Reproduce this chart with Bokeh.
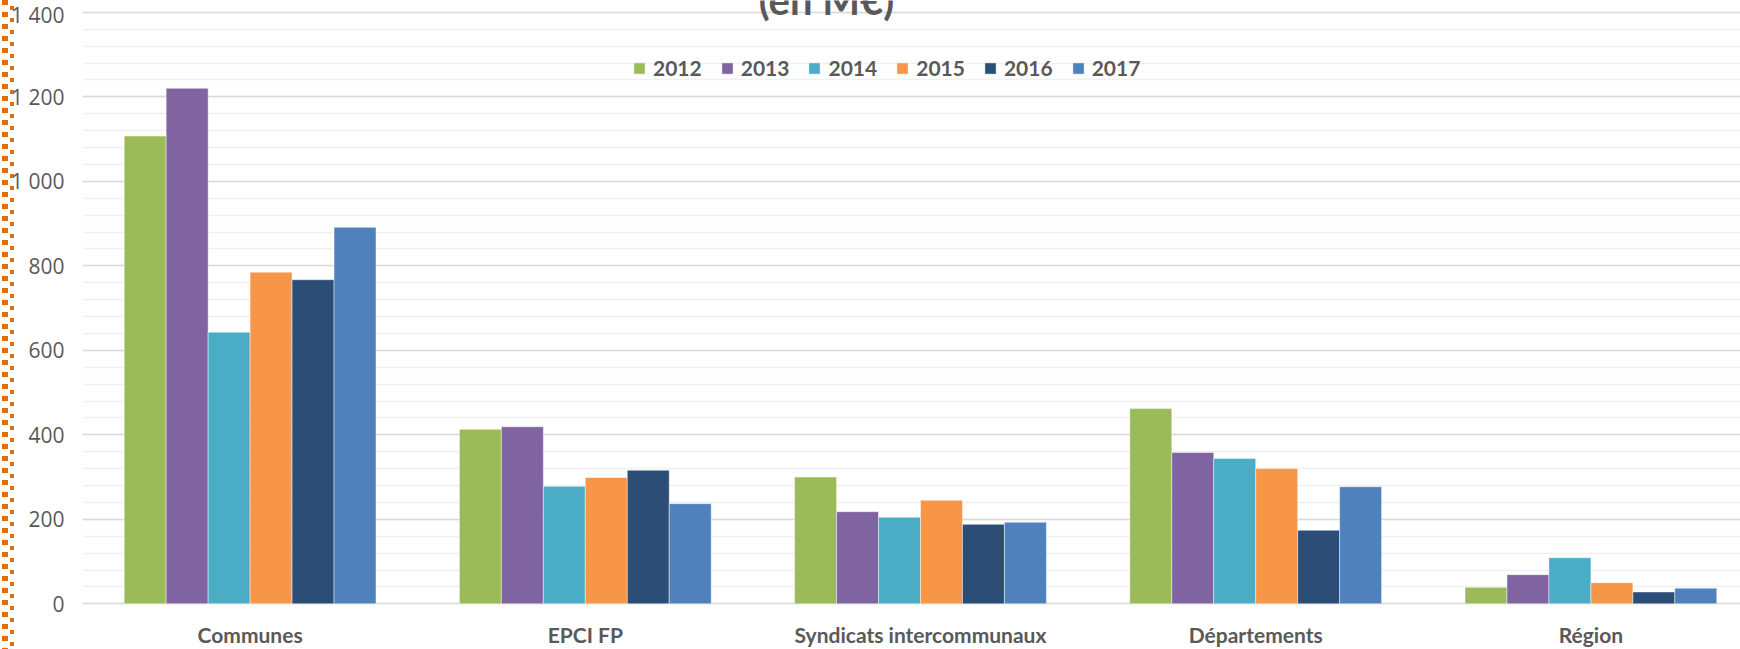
from bokeh.plotting import figure
from bokeh.models import (Range1d, FixedTicker, Legend, LegendItem, LabelSet,
                          ColumnDataSource)
from bokeh.core.properties import value
from bokeh.transform import dodge
from bokeh.embed import file_html
from bokeh.resources import INLINE

# ---- data ----
categories = ["Communes", "EPCI FP", "Syndicats intercommunaux", "Départements", "Région"]
years = ["2012", "2013", "2014", "2015", "2016", "2017"]
v2012 = [1107, 413, 300, 462, 39]
v2013 = [1220, 419, 218, 358, 69]
v2014 = [643, 278, 205, 344, 109]
v2015 = [785, 299, 245, 320, 50]
v2016 = [767, 316, 188, 174, 28]
v2017 = [891, 237, 193, 277, 37]
y_ticks = [0, 200, 400, 600, 800, 1000, 1200, 1400]
y_tick_labels = ["0", "200", "400", "600", "800", "1 000", "1 200", "1 400"]
title_text = "(en M€)"

colors = ["#9BBB59", "#8064A2", "#4BACC6", "#F79646", "#2C4D75", "#4F81BD"]
series = [v2012, v2013, v2014, v2015, v2016, v2017]

# ---- layout constants (pixels) ----
W, H = 1740, 649
LEFT = 82
Y_TOP_PX = 11.8      # position of the 1400 line from the top
Y_ZERO_PX = 603.3    # position of the 0 line from the top
cat_px = 335.2
frame_w = W - LEFT
ppu = (Y_ZERO_PX - Y_TOP_PX) / 1400.0
bar_w = 0.1252

FONT = "Lato"
GREY = "#595959"

data = {"x": [i + 0.5 for i in range(len(categories))], "cat": categories}
for y, s in zip(years, series):
    data[y] = s
src = ColumnDataSource(data)

p = figure(width=W, height=H, output_backend="svg", toolbar_location=None, title=None,
           x_axis_location=None,
           x_range=Range1d(0, frame_w / cat_px),
           y_range=Range1d(-(H - Y_ZERO_PX) / ppu, 1400 + Y_TOP_PX / ppu),
           min_border_left=LEFT, min_border_right=0, min_border_top=0,
           min_border_bottom=0, background_fill_color="white",
           border_fill_alpha=0, outline_line_color=None)

# orange dotted edge at the far left (decoration of the original slide)
p.styles = {
    "background-image": (
        "repeating-linear-gradient(to bottom, #E46C0A 0px, #E46C0A 5px, "
        "rgba(255,255,255,0) 5px, rgba(255,255,255,0) 12px), "
        "repeating-linear-gradient(to bottom, rgba(255,255,255,0) 0px, rgba(255,255,255,0) 6px, "
        "#E46C0A 6px, #E46C0A 10px, rgba(255,255,255,0) 10px, rgba(255,255,255,0) 12px)"),
    "background-size": "6px 100%, 4px 100%",
    "background-repeat": "no-repeat, no-repeat",
    "background-position": "2px 0px, 10px 0px",
}

renderers = []
for j, (y, c) in enumerate(zip(years, colors)):
    r = p.vbar(x=dodge("x", (j - 2.5) * bar_w, range=p.x_range), top=y, width=bar_w,
               source=src, fill_color=c, line_color="white", line_width=1, line_alpha=0.45)
    renderers.append(r)

# axes / grid
p.xgrid.visible = False
ya = p.yaxis[0]
ya.ticker = FixedTicker(ticks=y_ticks, minor_ticks=list(range(0, 1401, 40)))
ya.major_label_overrides = {t: l for t, l in zip(y_ticks, y_tick_labels)}
ya.axis_line_color = None
ya.major_tick_line_color = None
ya.minor_tick_line_color = None
ya.major_tick_out = 0
ya.major_tick_in = 0
ya.minor_tick_out = 0
ya.major_label_standoff = 18
ya.major_label_text_font = "Open Sans"
ya.major_label_text_font_size = "21px"
ya.major_label_text_color = GREY
p.ygrid.grid_line_color = "#d9d9d9"
p.ygrid.grid_line_width = 1.3
p.ygrid.minor_grid_line_color = "#f0f0f0"
p.ygrid.minor_grid_line_width = 1.3

# category labels
labels = LabelSet(x="x", y=7, y_units="screen", text="cat", source=src,
                  text_align="center", text_baseline="alphabetic", text_font=value(FONT),
                  text_font_style="bold", text_font_size="21px", text_color=GREY)
p.add_layout(labels)

# legend
legend = Legend(items=[LegendItem(label=y, renderers=[r]) for y, r in zip(years, renderers)],
                orientation="horizontal", location=(632 - LEFT, H - 68 - 12), padding=0,
                margin=0, spacing=18, label_standoff=7, glyph_width=14, glyph_height=14,
                label_height=24,
                label_text_font=FONT, label_text_font_style="bold",
                label_text_font_size="21px", label_text_color=GREY,
                background_fill_alpha=0, border_line_color=None)
p.add_layout(legend)

# title (partially cut off at the top, as in the original)
title_src = ColumnDataSource({"t": [title_text]})
p.add_layout(LabelSet(x=826 - LEFT, y=H - 14.5, x_units="screen", y_units="screen",
                      text="t", source=title_src, text_align="center",
                      text_baseline="alphabetic", text_font=value(FONT),
                      text_font_style="bold", text_font_size="40px", text_color=GREY))

open("out.html", "w").write(file_html(p, INLINE))
